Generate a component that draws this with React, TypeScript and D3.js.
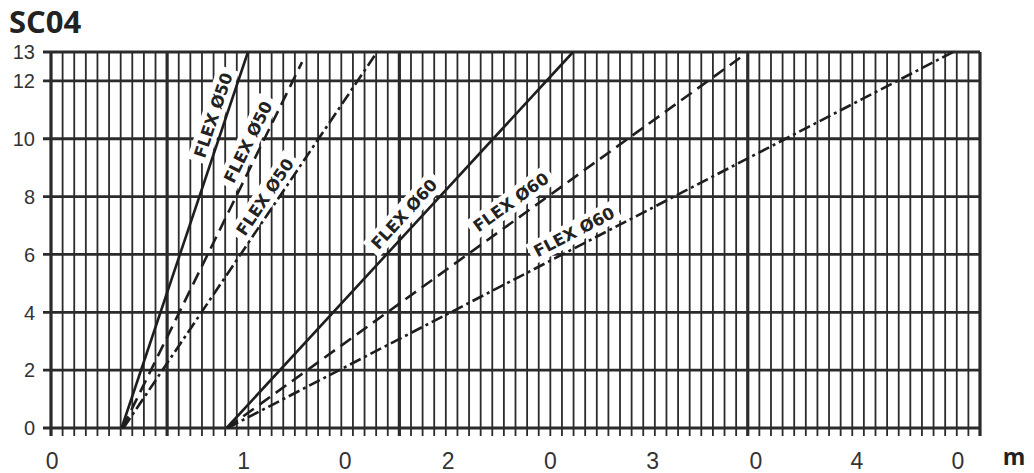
import * as d3 from "d3";
import React, { useEffect, useRef } from "react";

// y axis ticks (value) and x axis labels (text + position in metres)
const yTicks = [0, 2, 4, 6, 8, 10, 12, 13];
const xLabelText = ["0", "1", "0", "2", "0", "3", "0", "4", "0"];
const xLabelPos = [0.05, 8.3, 12.66, 17.1, 21.5, 25.9, 30.35, 34.7, 39.05];
const majorX = [0, 5, 15, 30, 40];

// the six FLEX lines
const lineNames = ["FLEX Ø50", "FLEX Ø50", "FLEX Ø50", "FLEX Ø60", "FLEX Ø60", "FLEX Ø60"];
const lineStartX = [3.04, 3.08, 3.12, 7.56, 7.58, 7.6];
const lineEndX = [8.48, 10.81, 14.04, 22.48, 29.67, 38.84];
const lineEndY = [13, 12.65, 13, 13, 12.8, 13];
const lineKind = ["solid", "dash", "dashdot", "solid", "dash", "dashdot"];
// where each name sits (centre of text)
const labelX = [6.98, 8.48, 9.21, 15.2, 19.8, 22.52];
const labelY = [10.82, 9.89, 7.99, 7.4, 7.81, 6.78];

const App: React.FC = () => {
  const ref = useRef<SVGSVGElement>(null);

  useEffect(() => {
    const svg = d3.select(ref.current);
    svg.selectAll("*").remove();

    const W = 1034;
    const H = 473;
    svg.attr("width", W).attr("height", H);
    svg.append("rect").attr("width", W).attr("height", H).attr("fill", "#fff");

    const x = d3.scaleLinear().domain([0, 40]).range([51, 980]);
    const y = d3.scaleLinear().domain([0, 13]).range([428, 52]);
    const ink = "#2b2b2b";

    // title
    svg
      .append("text")
      .attr("x", 9)
      .attr("y", 33)
      .attr("font-family", "'Open Sans', sans-serif")
      .attr("font-weight", 700)
      .attr("font-size", 31)
      .attr("fill", "#222")
      .text("SC04");

    // vertical grid, every 0.5 m
    const grid = svg.append("g");
    grid
      .selectAll("line.v")
      .data(d3.range(0, 40.001, 0.5))
      .join("line")
      .attr("x1", (d) => x(d))
      .attr("x2", (d) => x(d))
      .attr("y1", y(13))
      .attr("y2", y(0) + 8)
      .attr("stroke", ink)
      .attr("stroke-width", (d) => (majorX.includes(d) ? 3.2 : 1.8));

    // horizontal grid
    grid
      .selectAll("line.h")
      .data(yTicks)
      .join("line")
      .attr("x1", x(0) - 8)
      .attr("x2", x(40))
      .attr("y1", (d) => y(d))
      .attr("y2", (d) => y(d))
      .attr("stroke", ink)
      .attr("stroke-width", 2.8);

    // y labels
    svg
      .append("g")
      .selectAll("text")
      .data(yTicks)
      .join("text")
      .attr("x", 35)
      .attr("y", (d) => y(d))
      .attr("dy", "0.36em")
      .attr("text-anchor", "end")
      .attr("font-family", "'Liberation Sans', Arial, sans-serif")
      .attr("font-size", 20)
      .attr("fill", "#333")
      .text((d) => d);

    // x labels
    svg
      .append("g")
      .selectAll("text")
      .data(xLabelText)
      .join("text")
      .attr("x", (_, i) => x(xLabelPos[i]))
      .attr("y", 469)
      .attr("text-anchor", "middle")
      .attr("font-family", "'Liberation Sans', Arial, sans-serif")
      .attr("font-size", 23)
      .attr("fill", "#333")
      .text((d) => d);

    svg
      .append("text")
      .attr("x", 1014)
      .attr("y", 465)
      .attr("text-anchor", "middle")
      .attr("font-family", "'Open Sans', sans-serif")
      .attr("font-weight", 700)
      .attr("font-size", 23)
      .attr("fill", "#222")
      .text("m");

    const dashes: Record<string, string | null> = {
      solid: null,
      dash: "13,7",
      dashdot: "12,4,3,4",
    };

    const angleOf = (i: number) => {
      const dx = x(lineEndX[i]) - x(lineStartX[i]);
      const dy = y(lineEndY[i]) - y(0);
      return (Math.atan2(dy, dx) * 180) / Math.PI;
    };

    // white boxes behind the names, then the lines, then the names
    const boxes = svg.append("g");
    const lines = svg.append("g");
    const names = svg.append("g");

    lineNames.forEach((name, i) => {
      const a = angleOf(i);
      const pos = `translate(${x(labelX[i])},${y(labelY[i])}) rotate(${a})`;
      const t = names
        .append("text")
        .attr("transform", pos)
        .attr("text-anchor", "middle")
        .attr("dy", "0.36em")
        .attr("font-family", "'DejaVu Sans', sans-serif")
        .attr("font-weight", 700)
        .attr("font-size", 16.5)
        .attr("fill", "#222")
        .text(name);
      const len = (t.node() as SVGTextElement).getComputedTextLength();
      boxes
        .append("rect")
        .attr("transform", pos)
        .attr("x", -len / 2 - 5)
        .attr("y", -11)
        .attr("width", len + 10)
        .attr("height", 22)
        .attr("fill", "#fff");
    });

    lineNames.forEach((_, i) => {
      lines
        .append("line")
        .attr("x1", x(lineStartX[i]))
        .attr("y1", y(0))
        .attr("x2", x(lineEndX[i]))
        .attr("y2", y(lineEndY[i]))
        .attr("stroke", "#1e1e1e")
        .attr("stroke-width", 2.6)
        .attr("stroke-dasharray", dashes[lineKind[i]]);
    });
  }, []);

  return (
    <svg
      ref={ref}
      style={{ position: "absolute", left: 0, top: 0, display: "block" }}
    ></svg>
  );
};

export default App;
